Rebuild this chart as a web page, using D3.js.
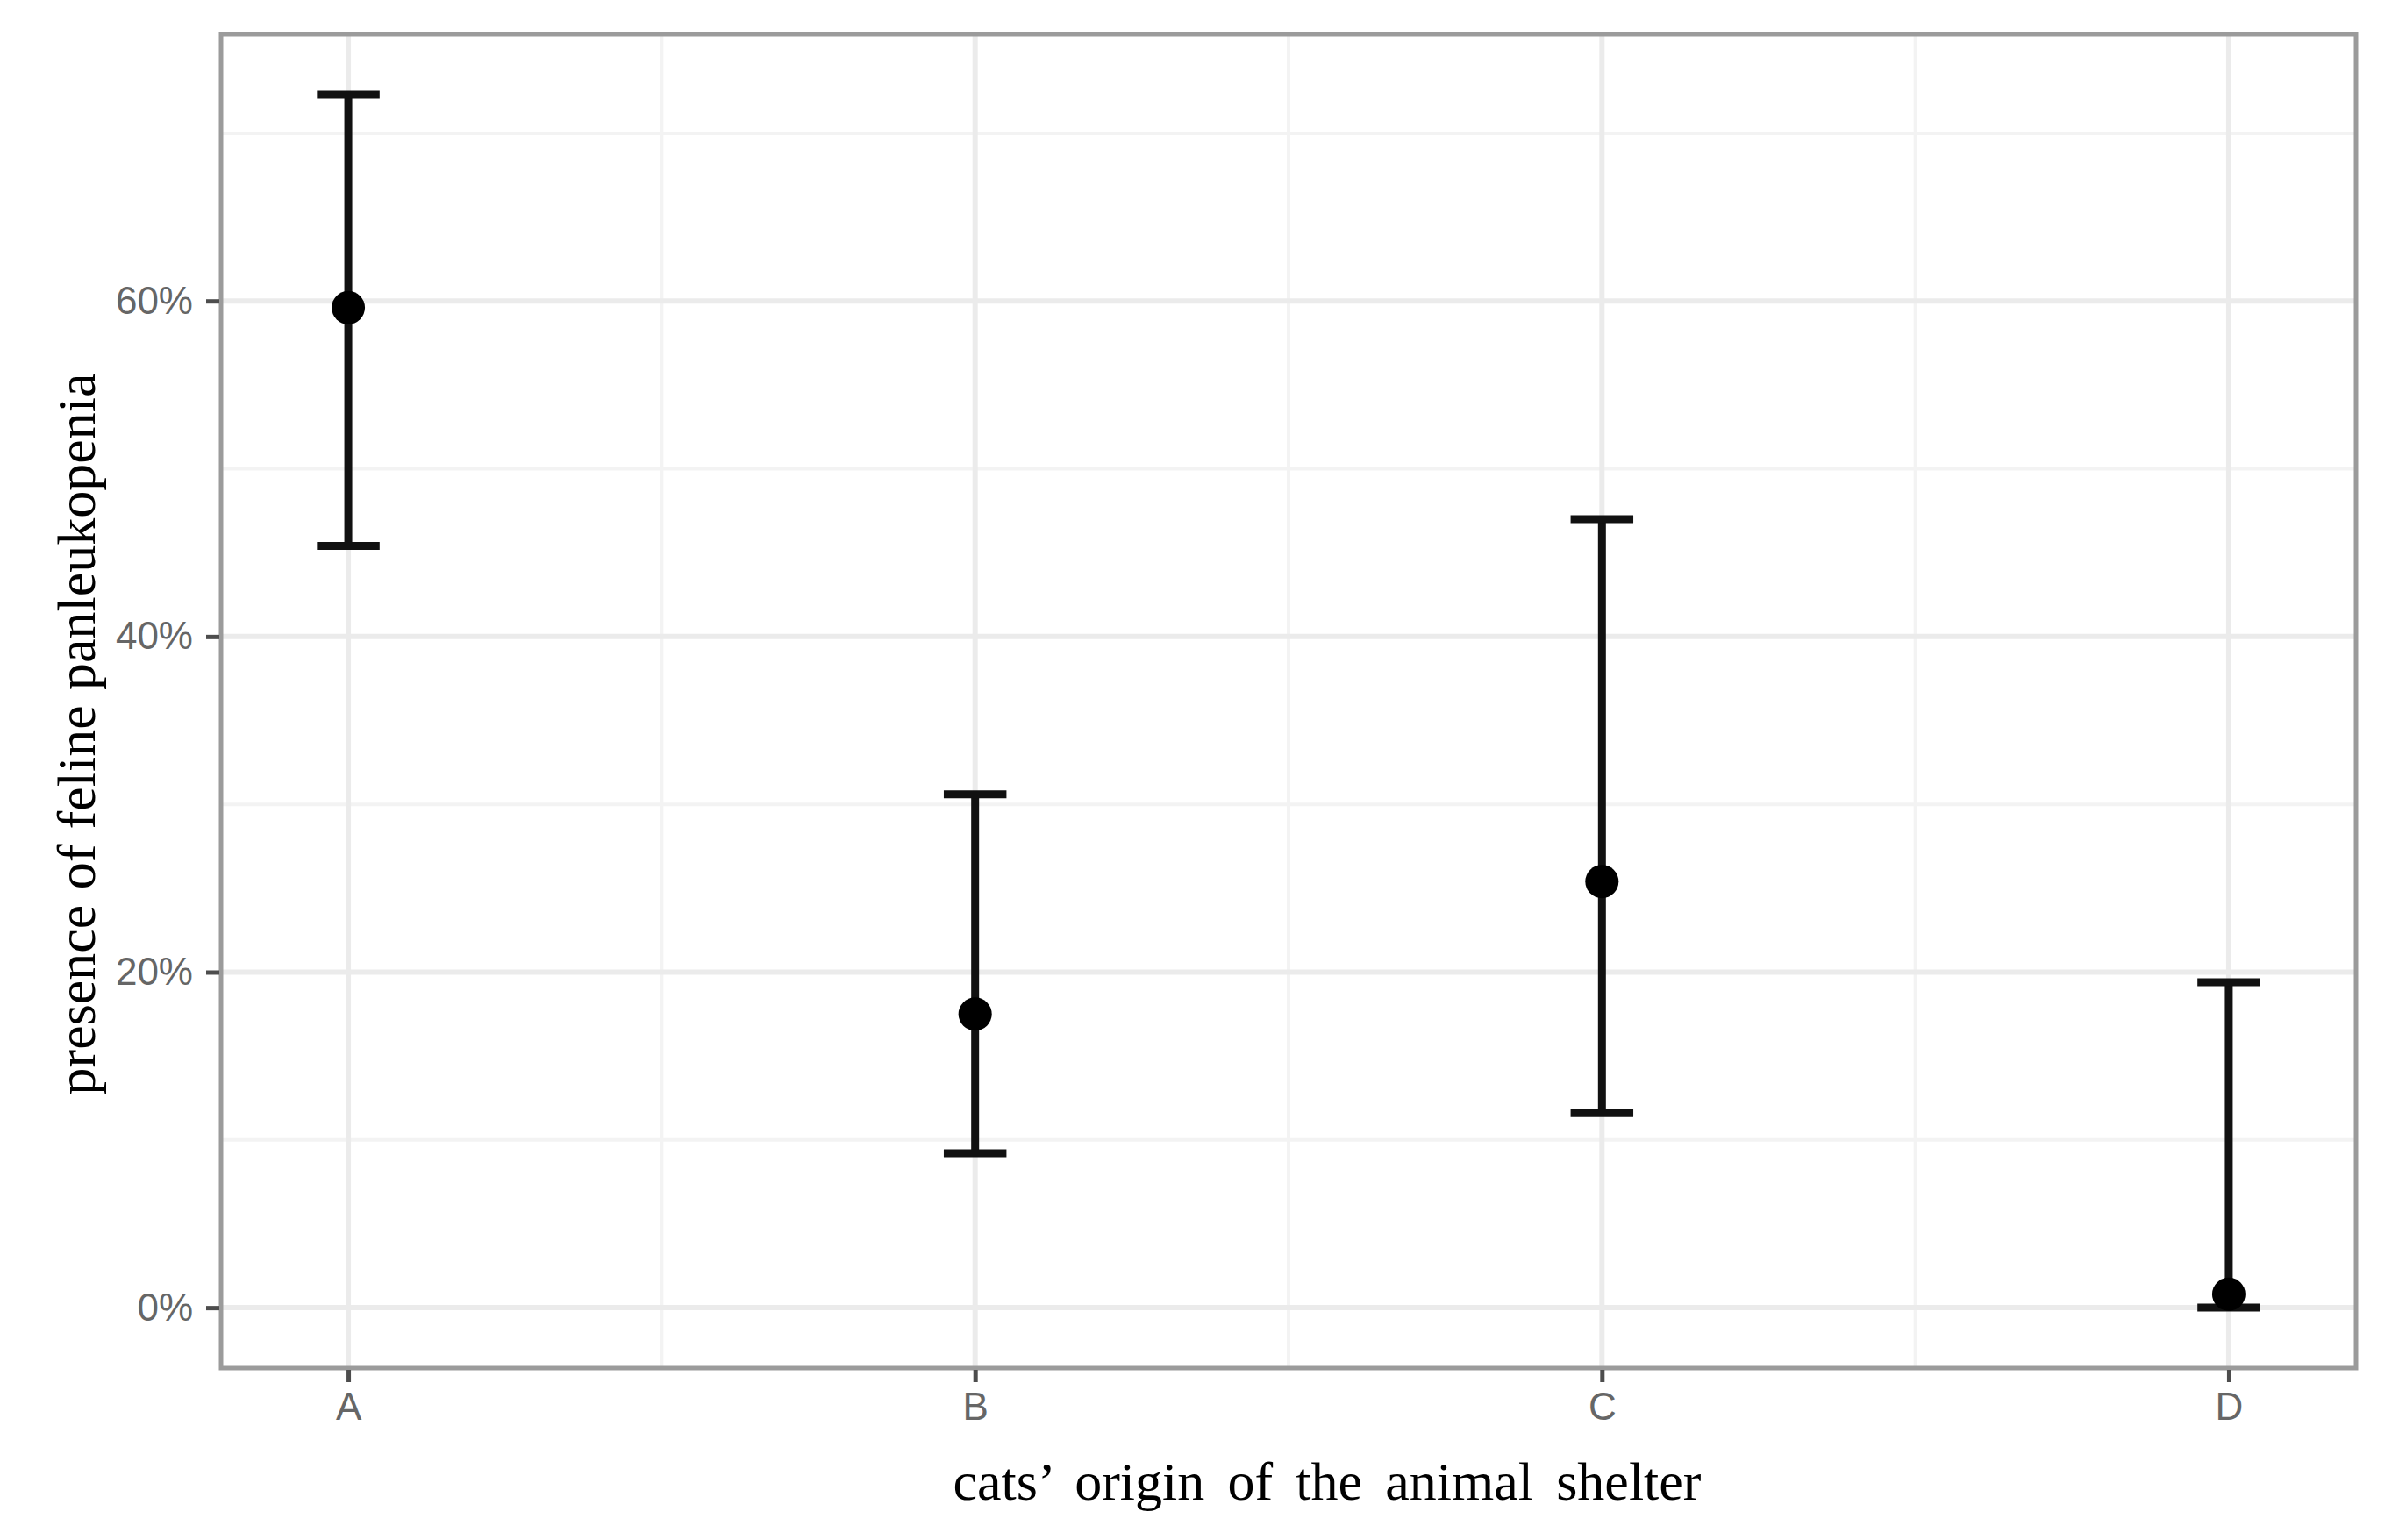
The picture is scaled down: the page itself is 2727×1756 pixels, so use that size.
<!DOCTYPE html>
<html>
<head>
<meta charset="utf-8">
<script src="https://cdn.jsdelivr.net/npm/d3@7"></script>
<style>
  html, body { margin: 0; padding: 0; background: #ffffff; }
  svg { display: block; }
</style>
</head>
<body>
<svg id="chart" width="2727" height="1756"></svg>
<script>
// ---- data ----
const categories = ["A", "B", "C", "D"];
const estimate = [0.596, 0.175, 0.254, 0.008];
const lower = [0.454, 0.092, 0.116, 0.000];
const upper = [0.723, 0.306, 0.470, 0.194];
const yTicks = [0, 0.2, 0.4, 0.6];
const yTickLabels = ["0%", "20%", "40%", "60%"];
const yMinorTicks = [0.1, 0.3, 0.5, 0.7];
const xTitle = "cats\u2019 origin of the animal shelter";
const yTitle = "presence of feline panleukopenia";

// ---- layout ----
const W = 2727, H = 1756;
const panel = { left: 252, right: 2686, top: 39, bottom: 1560 };

const svg = d3.select("#chart");

const x = d3.scalePoint()
  .domain(categories)
  .range([panel.left, panel.right])
  .padding(0.203);

const yLo = -0.036, yHi = 0.759;
const y = d3.scaleLinear()
  .domain([yLo, yHi])
  .range([panel.bottom, panel.top]);

// panel background
svg.append("rect")
  .attr("x", panel.left).attr("y", panel.top)
  .attr("width", panel.right - panel.left)
  .attr("height", panel.bottom - panel.top)
  .attr("fill", "#ffffff");

const grid = svg.append("g");
// minor grid y
grid.selectAll("line.ymin").data(yMinorTicks).enter().append("line")
  .attr("x1", panel.left).attr("x2", panel.right)
  .attr("y1", d => y(d)).attr("y2", d => y(d))
  .attr("stroke", "#f3f3f3").attr("stroke-width", 4);
// minor grid x (midpoints)
const xMinor = categories.slice(1).map((c, i) => (x(c) + x(categories[i])) / 2);
grid.selectAll("line.xmin").data(xMinor).enter().append("line")
  .attr("y1", panel.top).attr("y2", panel.bottom)
  .attr("x1", d => d).attr("x2", d => d)
  .attr("stroke", "#f3f3f3").attr("stroke-width", 4);
// major grid y
grid.selectAll("line.ymaj").data(yTicks).enter().append("line")
  .attr("x1", panel.left).attr("x2", panel.right)
  .attr("y1", d => y(d)).attr("y2", d => y(d))
  .attr("stroke", "#ebebeb").attr("stroke-width", 6);
// major grid x
grid.selectAll("line.xmaj").data(categories).enter().append("line")
  .attr("y1", panel.top).attr("y2", panel.bottom)
  .attr("x1", d => x(d)).attr("x2", d => x(d))
  .attr("stroke", "#ebebeb").attr("stroke-width", 6);

// ---- error bars ----
const rows = categories.map((c, i) => ({ c, est: estimate[i], lo: lower[i], hi: upper[i] }));
const capHalf = x.step() * 0.05;
const eb = svg.append("g").attr("stroke", "#111111").attr("stroke-width", 9).attr("fill", "none");
rows.forEach(r => {
  const g = eb.append("g");
  g.append("line").attr("x1", x(r.c)).attr("x2", x(r.c)).attr("y1", y(r.lo)).attr("y2", y(r.hi));
  g.append("line").attr("x1", x(r.c) - capHalf).attr("x2", x(r.c) + capHalf).attr("y1", y(r.hi)).attr("y2", y(r.hi));
  g.append("line").attr("x1", x(r.c) - capHalf).attr("x2", x(r.c) + capHalf).attr("y1", y(r.lo)).attr("y2", y(r.lo));
});
svg.append("g").selectAll("circle").data(rows).enter().append("circle")
  .attr("cx", d => x(d.c)).attr("cy", d => y(d.est)).attr("r", 19)
  .attr("fill", "#000000");

// panel border
svg.append("rect")
  .attr("x", panel.left).attr("y", panel.top)
  .attr("width", panel.right - panel.left)
  .attr("height", panel.bottom - panel.top)
  .attr("fill", "none").attr("stroke", "#9b9b9b").attr("stroke-width", 5);

// ---- axes ----
const yAxis = d3.axisLeft(y)
  .tickValues(yTicks)
  .tickFormat((d, i) => yTickLabels[i])
  .tickSize(15).tickPadding(15);
const gy = svg.append("g").attr("transform", `translate(${panel.left - 2},0)`).call(yAxis);
gy.select(".domain").remove();
gy.selectAll(".tick line").attr("stroke", "#4d4d4d").attr("stroke-width", 5);
gy.selectAll(".tick text").attr("fill", "#666666")
  .style("font-family", "'Liberation Sans', Arial, sans-serif").style("font-size", "44px");

const xAxis = d3.axisBottom(x).tickSize(14).tickPadding(12);
const gx = svg.append("g").attr("transform", `translate(0,${panel.bottom + 2})`).call(xAxis);
gx.select(".domain").remove();
gx.selectAll(".tick line").attr("stroke", "#4d4d4d").attr("stroke-width", 5);
gx.selectAll(".tick text").attr("fill", "#666666")
  .style("font-family", "'Liberation Sans', Arial, sans-serif").style("font-size", "44px");

// ---- titles ----
function fitWords(sel, target) {
  const n = (sel.text().match(/ /g) || []).length;
  const len = sel.node().getComputedTextLength();
  if (n > 0) sel.style("word-spacing", Math.max(0, (target - len) / n) + "px");
}
const xt = svg.append("text")
  .attr("x", 1513).attr("y", 1710)
  .attr("text-anchor", "middle")
  .style("font-family", "'Liberation Serif', 'DejaVu Serif', serif")
  .style("font-size", "62px").attr("fill", "#000000")
  .text(xTitle);
fitWords(xt, 853);

const yt = svg.append("text")
  .attr("transform", "translate(108,837) rotate(-90)")
  .attr("text-anchor", "middle")
  .style("font-family", "'Liberation Serif', 'DejaVu Serif', serif")
  .style("font-size", "62px").attr("fill", "#000000")
  .text(yTitle);
fitWords(yt, 823);
</script>
</body>
</html>
